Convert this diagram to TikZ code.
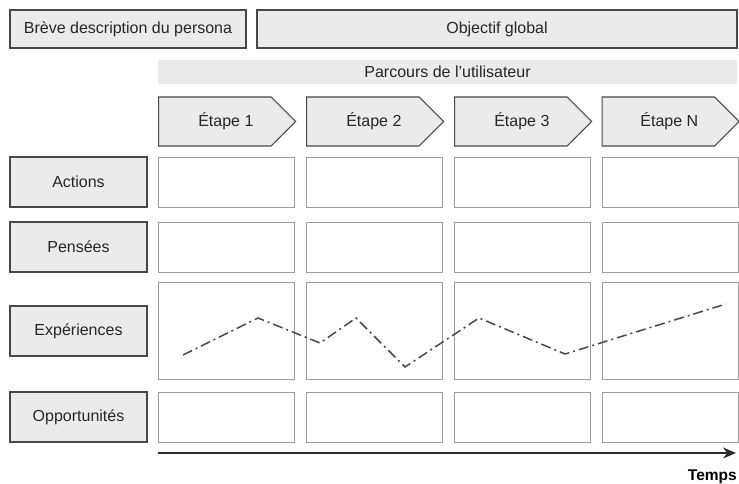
\documentclass[tikz,border=0pt]{standalone}
\usepackage{fontspec}
\setmainfont{Liberation Sans}
\usetikzlibrary{shapes.symbols, arrows.meta}

\definecolor{fondgris}{HTML}{EBEBEB}
\definecolor{traitfonce}{HTML}{484848}
\definecolor{traitclair}{HTML}{9C9C9C}

\tikzset{
    texte/.style={font=\fontsize{16}{19}\selectfont, text=black!85},
    titre/.style={texte, draw=traitfonce, line width=1.5pt, fill=fondgris, minimum height=38pt, inner sep=0pt},
    rubrique/.style={titre, minimum width=137pt, minimum height=50pt},
    etape/.style={texte, signal, signal to=east, signal pointer angle=90, draw=traitfonce, line width=1.2pt, fill=fondgris, minimum width=137pt, minimum height=49pt, inner sep=0pt, anchor=west, execute at begin node=\hspace*{22pt}},
    case/.style={draw=traitclair, line width=1pt, fill=white, minimum width=136pt, inner sep=0pt, anchor=north west},
}

\begin{document}
\begin{tikzpicture}[x=1pt, y=-1pt]
            \useasboundingbox (0,0) rectangle (739,484);

            % en-tete
            \node[titre, minimum width=236pt] (persona) at (128,29) {Brève description du persona};
            \node[titre, minimum width=480pt] (objectif) at (497,29) {Objectif global};
            \node[texte, fill=fondgris, minimum width=579pt, minimum height=24pt, inner sep=0pt] (parcours) at (447.5,72) {Parcours de l'utilisateur};

            % etapes
            \node[etape] (etape1) at (158,121.5) {Étape 1};
            \node[etape] (etape2) at (306,121.5) {Étape 2};
            \node[etape] (etape3) at (454,121.5) {Étape 3};
            \node[etape] (etapeN) at (601.5,121.5) {Étape N};

            % rubriques
            \node[rubrique] (actions) at (78.5,182) {Actions};
            \node[rubrique] (pensees) at (78.5,247) {Pensées};
            \node[rubrique] (experiences) at (78.5,331) {Expériences};
            \node[rubrique] (opportunites) at (78.5,417) {Opportunités};

            % cases
            \foreach \x/\n in {158/1, 306/2, 454/3, 602/4} {
                \node[case, minimum height=50pt] (act\n) at (\x,157) {};
                \node[case, minimum height=50pt] (pen\n) at (\x,222) {};
                \node[case, minimum height=97pt] (exp\n) at (\x,282) {};
                \node[case, minimum height=50pt] (opp\n) at (\x,392) {};
            }

            % courbe des experiences
            \draw[traitfonce, line width=1.5pt, dash pattern=on 10pt off 4pt on 2pt off 4pt]
                (183,355) -- (258,318) -- (320,343) -- (356,318) -- (405,367)
                -- (479,318) -- (565,354) -- (726,304);

            % axe du temps
            \coordinate (debut) at (158,453);
            \coordinate (fin) at (736,453);
            \draw[traitfonce!60!black, line width=2pt, -{Stealth[length=13pt, width=11pt]}] (debut) -- (fin);
            \node[font=\fontsize{15.5}{18}\selectfont\bfseries, anchor=east, inner sep=0pt] (temps) at (737,477) {Temps};
        \end{tikzpicture}
\end{document}
